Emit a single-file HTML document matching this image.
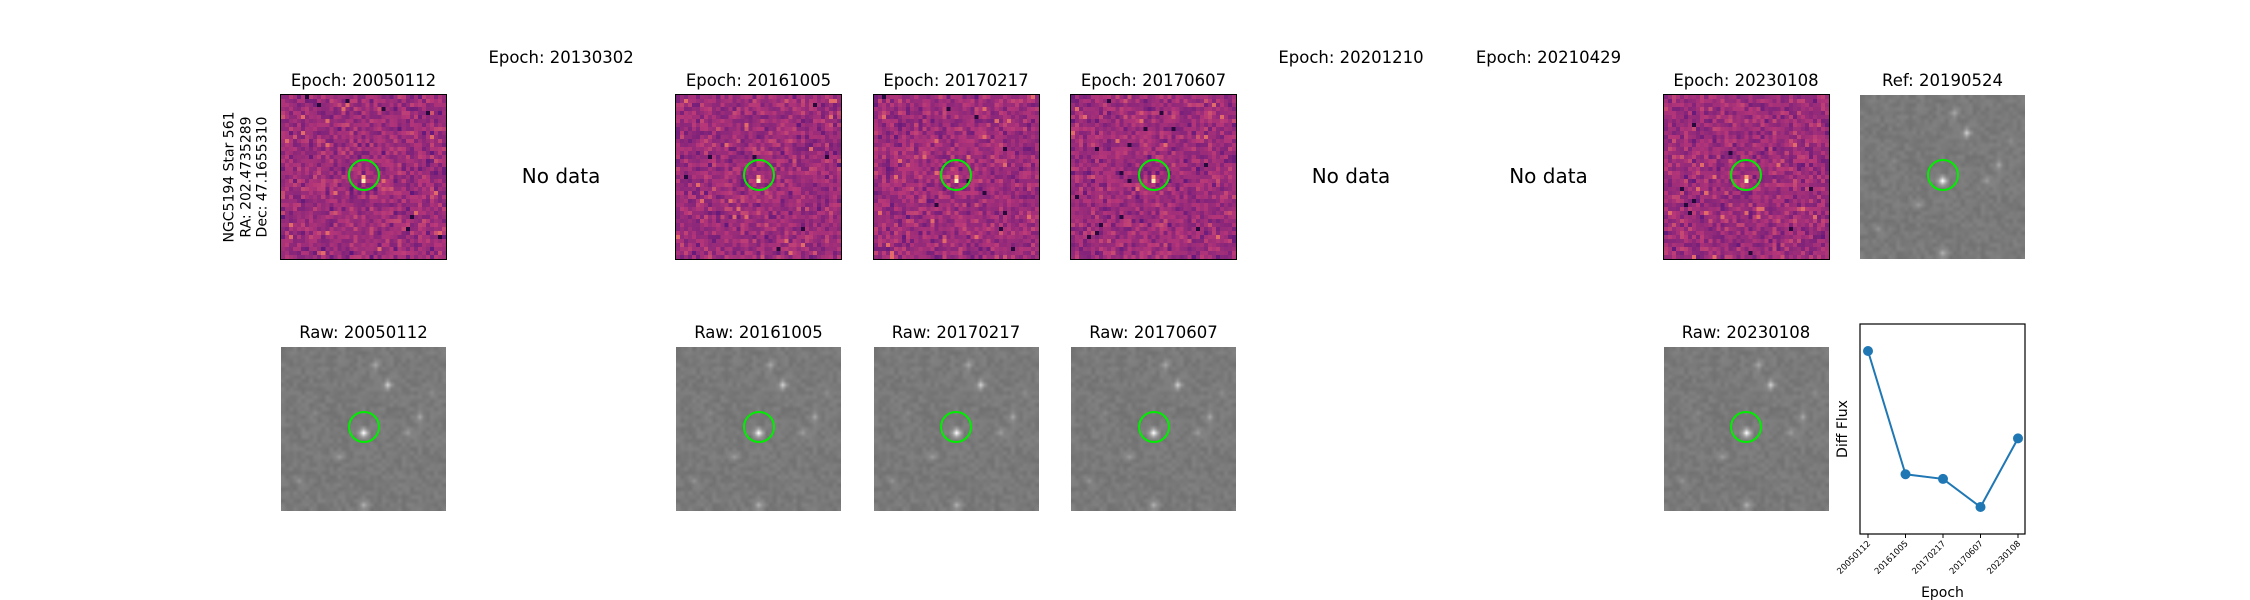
<!DOCTYPE html>
<html><head><meta charset="utf-8">
<style>
body{margin:0;background:#fff;}
#root{position:relative;width:2250px;height:600px;overflow:hidden;font-family:"DejaVu Sans","Liberation Sans",sans-serif;color:#000;}
.t{position:absolute;font-size:16.5px;white-space:nowrap;transform:translateX(-50%);}
.nd{position:absolute;font-size:20px;white-space:nowrap;transform:translate(-50%,-50%);}
canvas{position:absolute;}
.circ{position:absolute;width:32px;height:32px;border:2px solid #00ee00;border-radius:50%;box-sizing:border-box;}
</style></head><body>
<div id="root">
<div style="position:absolute;left:246px;top:177px;transform:translate(-50%,-50%) rotate(-90deg);font-size:14px;line-height:16.5px;text-align:center;white-space:nowrap;">NGC5194 Star 561<br>RA: 202.4735289<br>Dec: 47.1655310</div>
<svg id="chart" style="position:absolute;left:0;top:0" width="2250" height="600"></svg>
</div>
<script>
const root=document.getElementById('root');
const colX=[281,478.6,676,873.5,1071,1268.5,1466,1663.5,1860];
const epochs=['20050112','20130302','20161005','20170217','20170607','20201210','20210429','20230108'];
const hasData=[true,false,true,true,true,false,false,true];
const W=165,H=164,R1=95,R2=347;
function rnd(s){return function(){s=(s*16807)%2147483647;return s/2147483647;};}
function magma(t){const st=[[0,0,4],[80,18,123],[182,54,121],[251,136,97],[252,253,191]];t=Math.max(0,Math.min(1,t))*4;const i=Math.min(3,Math.floor(t)),f=t-i;return st[i].map((v,k)=>Math.round(v+(st[i+1][k]-v)*f));}
function diffImg(x,y,seed,name){const c=document.createElement('canvas');c.width=41;c.height=41;c.style.cssText=`left:${x}px;top:${y}px;width:${W}px;height:${H}px;image-rendering:pixelated;outline:1.5px solid #000;`;


const g=c.getContext('2d'),r=rnd(seed);for(let i=0;i<41;i++)for(let j=0;j<41;j++){let v=0.44+(r()+r()+r()-1.5)*0.11;if(r()<0.006)v=0.12;if(r()<0.01)v=0.66;if(i==20&&j==21)v=0.97;if(i==20&&j==20)v=0.8;const m=magma(v);g.fillStyle=`rgb(${m})`;g.fillRect(i,j,1,1);}root.appendChild(c);}
function grayImg(x,y,name){const c=document.createElement('canvas');c.width=41;c.height=41;c.style.cssText=`left:${x}px;top:${y}px;width:${W}px;height:${H}px;`;


const g=c.getContext('2d'),r=rnd(777);const stars=[[20,21,140],[26,9,80],[23,4,40],[34,17,45],[8,16,25],[14,27,40],[31,21,35],[20,39,60],[4,33,25],[37,11,20]];
for(let i=0;i<41;i++)for(let j=0;j<41;j++){let v=122+(r()-0.5)*18;for(const s of stars){const d=(i-s[0])**2+(j-s[1])**2;v+=s[2]*Math.exp(-d/0.9);}v=Math.min(255,v);g.fillStyle=`rgb(${v|0},${v|0},${v|0})`;g.fillRect(i,j,1,1);}root.appendChild(c);}
function circle(x,y,name){const d=document.createElement('div');d.className='circ';d.style.left=(x+W/2-16)+'px';d.style.top=(y+80-16)+'px';


root.appendChild(d);}
function text(cls,x,y,s,name){const d=document.createElement('div');d.className=cls;d.style.left=x+'px';d.style.top=y+'px';d.textContent=s;


root.appendChild(d);}
epochs.forEach((e,k)=>{const x=colX[k];
 if(hasData[k]){text('t',x+W/2,71,'Epoch: '+e,'epoch-title-'+e);diffImg(x,R1,1000+k*37,'diff-image-'+e);circle(x,R1,'target-circle-'+e);
  text('t',x+W/2,323,'Raw: '+e,'raw-title-'+e);grayImg(x,R2,'raw-image-'+e);circle(x,R2,'raw-circle-'+e);}
 else{text('t',x+W/2,48,'Epoch: '+e,'epoch-title-'+e);text('nd',x+W/2,176,'No data','no-data-'+e);}
});
text('t',colX[8]+W/2,71,'Ref: 20190524','ref-title');grayImg(colX[8],R1,'ref-image');circle(colX[8],R1,'ref-circle');

// chart
const labels=['20050112','20161005','20170217','20170607','20230108'];
const flux=[1.0,0.21,0.18,0.0,0.44];
const yMin=-0.173,yMax=1.173;
const ax={l:1860,r:2025,t:324,b:534};
const xs=i=>1868+i*(2018-1868)/(labels.length-1);
const ys=v=>ax.b-(v-yMin)/(yMax-yMin)*(ax.b-ax.t);
const svg=document.getElementById('chart'),NS='http://www.w3.org/2000/svg';
function el(t,a,p){const e=document.createElementNS(NS,t);for(const k in a)e.setAttribute(k,a[k]);(p||svg).appendChild(e);return e;}
const frame=el('rect',{x:ax.l,y:ax.t,width:ax.r-ax.l,height:ax.b-ax.t,fill:'none',stroke:'#000','stroke-width':1.2});


const line=el('polyline',{points:flux.map((v,i)=>xs(i)+','+ys(v)).join(' '),fill:'none',stroke:'#1f77b4','stroke-width':2});


flux.forEach((v,i)=>{const c=el('circle',{cx:xs(i),cy:ys(v),r:5,fill:'#1f77b4'});

});
labels.forEach((l,i)=>{el('line',{x1:xs(i),x2:xs(i),y1:ax.b,y2:ax.b+4,stroke:'#000'});
const t=el('text',{x:xs(i)+3,y:ax.b+10,'font-size':8.5,'text-anchor':'end',transform:`rotate(-45 ${xs(i)+3} ${ax.b+10})`,'font-family':'DejaVu Sans, sans-serif'});t.textContent=l;

});
const xt=el('text',{x:(ax.l+ax.r)/2,y:597,'font-size':14,'text-anchor':'middle','font-family':'DejaVu Sans, sans-serif'});xt.textContent='Epoch';


const yt=el('text',{x:1847,y:429,'font-size':14,'text-anchor':'middle',transform:'rotate(-90 1847 429)','font-family':'DejaVu Sans, sans-serif'});yt.textContent='Diff Flux';


</script>
</body></html>
